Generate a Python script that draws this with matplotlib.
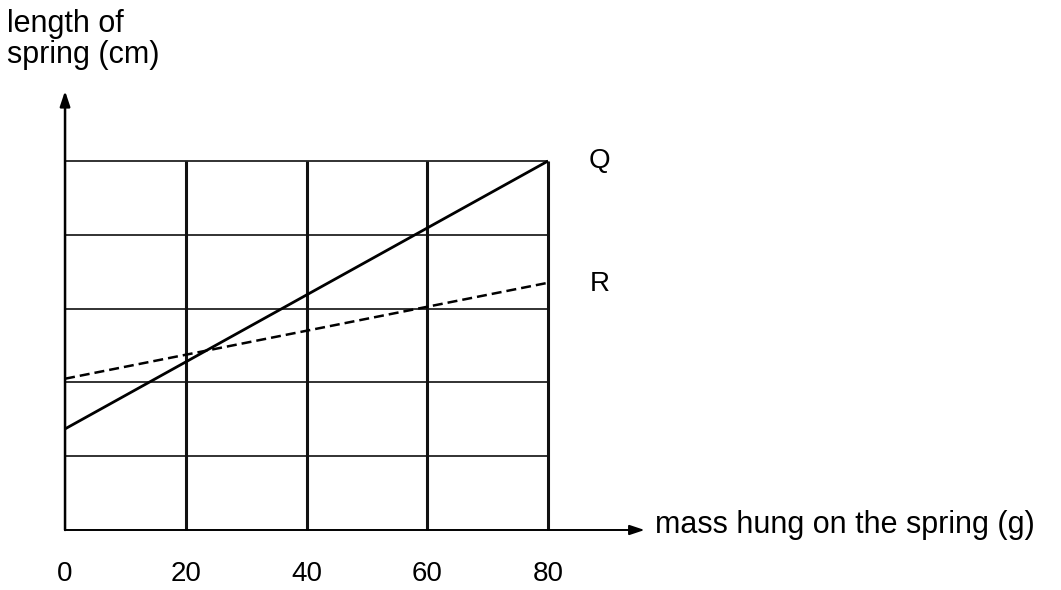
import numpy as np
import matplotlib.pyplot as plt

plt.rcParams['font.family'] = ['Liberation Sans', 'DejaVu Sans']

# mass values (g) and grid levels
mass = [0, 80]
mass_ticks = [0, 20, 40, 60, 80]
grid_levels = [1, 2, 3, 4, 5]
length_Q = [1.37, 5.0]   # solid line
length_R = [2.05, 3.35]  # dashed line

fig = plt.figure(figsize=(10.61, 5.90), dpi=100)
ax = fig.add_axes([0.0613, 0.1017, 0.4552, 0.6254])
ax.set_xlim(0, 80)
ax.set_ylim(0, 5)
ax.axis('off')

# grid
ax.hlines(grid_levels, 0, 80, color='#222222', linewidth=1.3, clip_on=False)
ax.vlines(mass_ticks[1:], 0, 5, color='#111111', linewidth=2.2, clip_on=False)

# axes with arrows
ax.annotate('', xy=(0, 5.95), xytext=(0, 0), annotation_clip=False,
            arrowprops=dict(arrowstyle='-|>,head_length=0.9,head_width=0.3',
                            color='black', lw=1.8, shrinkA=0, shrinkB=0))
ax.annotate('', xy=(96, 0), xytext=(0, 0), annotation_clip=False,
            arrowprops=dict(arrowstyle='-|>,head_length=0.9,head_width=0.3',
                            color='black', lw=1.4, shrinkA=0, shrinkB=0))

# lines
ax.plot(mass, length_Q, color='black', linewidth=2.0, solid_capstyle='butt',
        clip_on=False)
ax.plot(mass, length_R, color='black', linewidth=1.8, linestyle=(0, (4, 2)),
        clip_on=False)

# labels
ax.text(88.5, 5.0, 'Q', fontsize=20, ha='center', va='center')
ax.text(88.5, 3.33, 'R', fontsize=20, ha='center', va='center')
for m in mass_ticks:
    ax.text(m, -0.6, str(m), fontsize=20, ha='center', va='center')
ax.text(97.8, 0.07, 'mass hung on the spring (g)', fontsize=22,
        ha='left', va='center')
fig.text(0.007, 0.985, 'length of\nspring (cm)', fontsize=22,
         ha='left', va='top', linespacing=1.05)

fig.savefig('out.png', dpi=100)
